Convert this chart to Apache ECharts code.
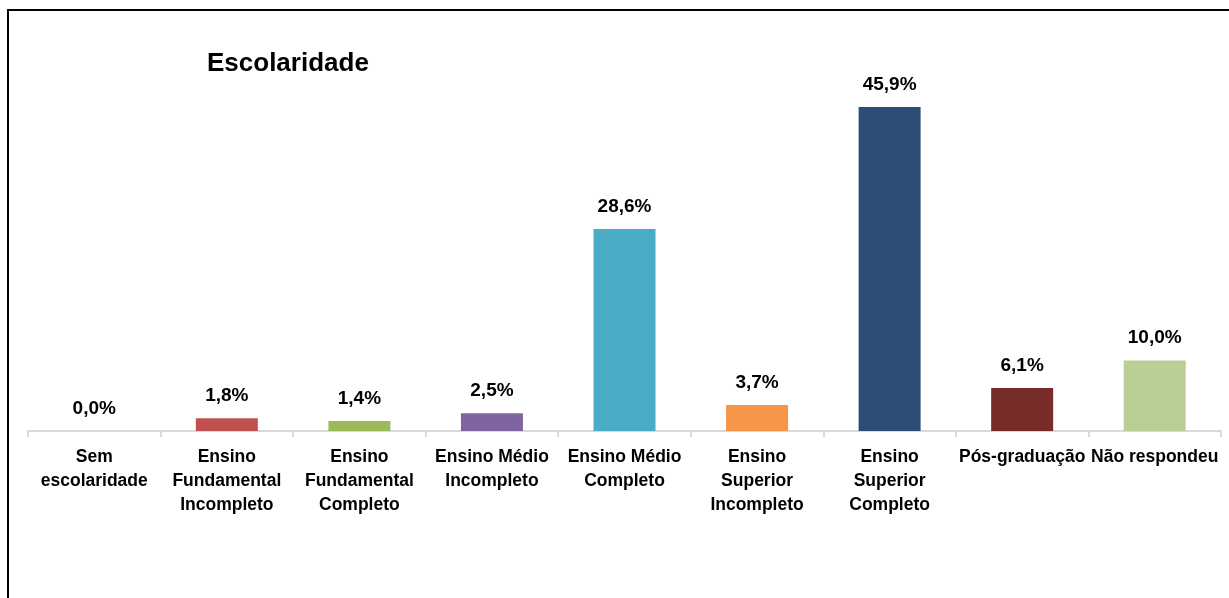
<!DOCTYPE html>
<html><head><meta charset="utf-8">
<script src="https://cdn.jsdelivr.net/npm/echarts@6/dist/echarts.min.js"></script>
<style>html,body{margin:0;padding:0;background:#fff}#c{width:1229px;height:598px}</style>
</head><body><div id="c"></div>
<script>
const categories = ["Sem\nescolaridade","Ensino\nFundamental\nIncompleto","Ensino\nFundamental\nCompleto","Ensino Médio\nIncompleto","Ensino Médio\nCompleto","Ensino\nSuperior\nIncompleto","Ensino\nSuperior\nCompleto","Pós-graduação","Não respondeu"];
const values = [0.0, 1.8, 1.4, 2.5, 28.6, 3.7, 45.9, 6.1, 10.0];
const colors = ["#4F81BD","#C0504D","#9BBB59","#8064A2","#4BACC6","#F79646","#2C4D75","#772C2A","#BACF95"];
const titleText = "Escolaridade";
const chart = echarts.init(document.getElementById('c'));
const font = "'Liberation Sans', Arial, sans-serif";
chart.setOption({
  animation:false,
  title:{text:titleText,left:202,top:46,textStyle:{fontFamily:font,fontSize:26,fontWeight:'bold',color:'#000'}},
  graphic:[{type:'rect',shape:{x:8,y:10,width:1400,height:800},style:{fill:'none',stroke:'#000',lineWidth:2},z:100}],
  grid:{left:28,right:8,top:78,bottom:167,containLabel:false},
  xAxis:{type:'category',data:categories,
    axisLine:{lineStyle:{color:'#D9D9D9',width:2}},
    axisTick:{show:true,alignWithLabel:false,length:6,lineStyle:{color:'#D9D9D9',width:2}},
    axisLabel:{interval:0,margin:14,fontFamily:font,fontSize:17.5,fontWeight:'bold',color:'#000',lineHeight:24}},
  yAxis:{type:'value',min:0,max:50,show:false,splitLine:{show:false}},
  series:[{type:'bar',barWidth:62,
    data:values.map((v,i)=>({value:v,itemStyle:{color:colors[i]}})),
    label:{show:true,position:'top',distance:13,fontFamily:font,fontSize:19,fontWeight:'bold',color:'#000',
      formatter:p=>p.value.toFixed(1).replace('.',',')+'%'}}]
});
</script></body></html>
